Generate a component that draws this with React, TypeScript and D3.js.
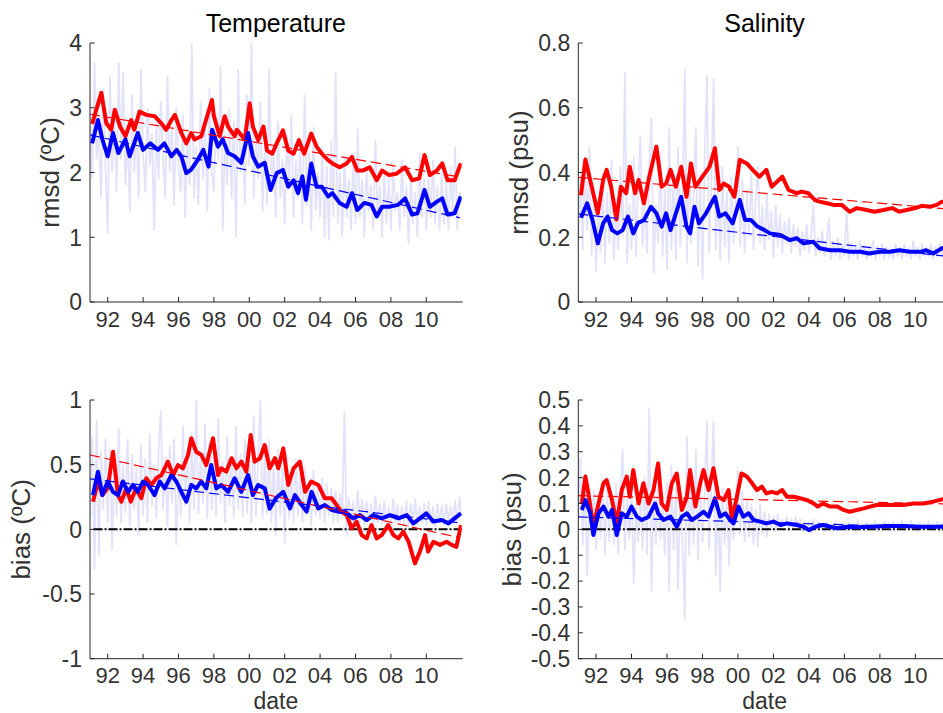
import React from 'react';
import * as d3 from 'd3';

// ---------- axis ticks ----------
const xTickYears = [1992, 1994, 1996, 1998, 2000, 2002, 2004, 2006, 2008, 2010];
const xTickLabels = ['92', '94', '96', '98', '00', '02', '04', '06', '08', '10'];

const tempRmsdTicks = [0, 1, 2, 3, 4];
const tempRmsdTickLabels = ['0', '1', '2', '3', '4'];
const salRmsdTicks = [0, 0.2, 0.4, 0.6, 0.8];
const salRmsdTickLabels = ['0', '0.2', '0.4', '0.6', '0.8'];
const tempBiasTicks = [-1, -0.5, 0, 0.5, 1];
const tempBiasTickLabels = ['-1', '-0.5', '0', '0.5', '1'];
const salBiasTicks = [-0.5, -0.4, -0.3, -0.2, -0.1, 0, 0.1, 0.2, 0.3, 0.4, 0.5];
const salBiasTickLabels = ['-0.5', '-0.4', '-0.3', '-0.2', '-0.1', '0', '0.1', '0.2', '0.3', '0.4', '0.5'];

// ---------- noisy background series (1/8 year sampling from 1991.0) ----------
const NOISE_START = 1991;
const NOISE_STEP = 0.125;

const tempRmsdNoise = [
  2.9, 1.9, 3.7, 2.2, 2.7, 1.6, 3.3, 2.1,
  1.05, 3.5, 2.0, 2.8, 1.7, 3.7, 2.2, 3.55,
  1.8, 2.6, 1.4, 3.2, 2.0, 2.7, 1.6, 3.6,
  2.3, 1.7, 3.0, 2.1, 2.6, 1.1, 2.8, 1.9,
  3.1, 2.2, 1.6, 3.5, 2.0, 2.7, 1.5, 3.0,
  2.1, 1.7, 2.9, 1.3, 2.6, 1.8, 4.0, 1.6,
  2.4, 1.5, 3.1, 1.9, 2.8, 1.4, 3.3, 2.0,
  1.7, 2.9, 2.2, 3.65, 1.1, 2.6, 1.8, 3.0,
  1.6, 2.8, 1.0, 3.6, 2.0, 2.5, 1.5, 3.2,
  2.1, 4.0, 1.6, 2.6, 1.9, 3.1, 1.4, 2.4,
  1.5, 3.6, 1.7, 2.3, 1.3, 2.8, 1.6, 2.2,
  1.2, 2.6, 1.8, 2.9, 1.3, 2.2, 1.6, 2.5,
  1.2, 3.2, 1.5, 2.3, 1.1, 2.7, 1.4, 2.0,
  1.3, 2.4, 1.0, 2.1, 0.95, 2.5, 1.3, 3.55,
  1.2, 2.0, 1.0, 2.2, 1.3, 1.9, 1.1, 2.3,
  1.2, 2.7, 1.3, 1.9, 1.0, 2.1, 1.4, 1.8,
  1.1, 2.5, 1.3, 1.8, 1.0, 2.0, 1.2, 1.9,
  1.1, 2.1, 1.4, 1.7, 1.1, 2.2, 1.3, 1.8,
  0.9, 2.0, 1.2, 1.7, 1.0, 2.3, 1.3, 1.9,
  1.1, 1.9, 1.3, 2.2, 1.2, 1.8, 1.1, 2.0,
  1.2, 1.9, 1.1, 2.1, 1.3, 2.4, 1.1, 1.7,
  1.6,
];

const salRmsdNoise = [
  0.20, 0.38, 0.16, 0.45, 0.22, 0.48, 0.14, 0.33,
  0.094, 0.30, 0.15, 0.40, 0.12, 0.34, 0.18, 0.44,
  0.13, 0.32, 0.16, 0.42, 0.20, 0.71, 0.12, 0.30,
  0.16, 0.45, 0.14, 0.36, 0.51, 0.17, 0.33, 0.15,
  0.42, 0.57, 0.088, 0.30, 0.18, 0.46, 0.14, 0.35,
  0.10, 0.54, 0.16, 0.40, 0.13, 0.48, 0.17, 0.30,
  0.72, 0.12, 0.44, 0.18, 0.33, 0.54, 0.11, 0.40,
  0.07, 0.45, 0.70, 0.15, 0.38, 0.69, 0.16, 0.36,
  0.13, 0.42, 0.17, 0.34, 0.12, 0.39, 0.18, 0.33,
  0.48, 0.17, 0.38, 0.15, 0.35, 0.20, 0.40, 0.16,
  0.32, 0.42, 0.18, 0.30, 0.16, 0.34, 0.19, 0.28,
  0.135, 0.30, 0.17, 0.27, 0.15, 0.25, 0.18, 0.26,
  0.15, 0.24, 0.17, 0.23, 0.14, 0.22, 0.16, 0.24,
  0.15, 0.21, 0.30, 0.14, 0.20, 0.15, 0.22, 0.14,
  0.19, 0.26, 0.13, 0.19, 0.14, 0.20, 0.13, 0.18,
  0.14, 0.28, 0.13, 0.18, 0.14, 0.17, 0.13, 0.19,
  0.14, 0.18, 0.13, 0.17, 0.14, 0.19, 0.13, 0.17,
  0.14, 0.18, 0.13, 0.17, 0.14, 0.16, 0.13, 0.18,
  0.14, 0.17, 0.13, 0.18, 0.14, 0.17, 0.13, 0.19,
  0.14, 0.17, 0.13, 0.18, 0.14, 0.17, 0.14, 0.18,
  0.13, 0.17, 0.14, 0.18, 0.14, 0.18, 0.15, 0.18,
  0.17,
];

const tempBiasNoise = [
  0.10, 0.72, -0.31, 0.85, -0.21, 0.60, 0.15, 0.70,
  0.05, 0.62, -0.16, 0.55, 0.10, 0.78, 0.05, 0.50,
  0.12, 0.70, 0.02, 0.58, 0.15, 0.48, -0.05, 0.66,
  0.10, 0.55, 0.05, 0.74, 0.18, 0.50, 0.08, 0.62,
  0.92, 0.15, 0.56, 0.02, 0.65, 0.20, 0.70, -0.12,
  0.45, 0.10, 0.80, 0.18, 0.62, 0.05, 0.74, 0.15,
  1.0, 0.12, 0.55, 0.20, 0.82, 0.08, 0.68, 0.15,
  0.60, 0.10, 0.86, 0.20, 0.52, 0.05, 0.72, 0.18,
  0.55, 0.08, 0.80, 0.15, 0.58, 0.10, 0.70, 0.12,
  0.62, 0.05, 0.88, 0.10, 0.55, 1.0, 0.08, 0.60,
  0.12, 0.70, 0.05, 0.52, -0.05, 0.62, 0.10, 0.48,
  -0.11, 0.58, 0.08, 0.45, 0.05, 0.55, 0.10, 0.42,
  0.05, 0.48, 0.12, 0.38, 0.02, 0.46, 0.10, 0.35,
  0.08, 0.40, 0.05, 0.36, 0.10, 0.32, 0.05, 0.30,
  0.05, 0.28, 0.10, 0.91, -0.06, 0.25, 0.05, 0.22,
  0.02, 0.30, 0.05, 0.24, 0.03, 0.22, 0.06, 0.20,
  0.02, 0.26, 0.05, 0.20, 0.04, 0.22, 0.03, 0.18,
  0.03, 0.24, 0.05, 0.20, 0.02, 0.18, 0.04, 0.22,
  0.02, 0.20, 0.04, 0.24, 0.03, 0.18, 0.05, 0.20,
  0.03, 0.22, 0.04, 0.18, 0.02, 0.20, 0.05, 0.19,
  0.03, 0.20, 0.05, 0.18, 0.04, 0.22, 0.05, 0.25,
  0.10,
];

const salBiasNoise = [
  0.02, 0.28, -0.06, 0.18, -0.18, 0.12, -0.02, 0.15,
  -0.08, 0.14, -0.04, 0.20, -0.10, 0.16, -0.05, 0.12,
  -0.06, 0.18, -0.10, 0.15, 0.31, -0.08, 0.12, -0.04,
  0.16, -0.21, 0.10, -0.05, 0.14, -0.08, 0.20, -0.10,
  0.47, -0.24, 0.15, -0.06, 0.20, -0.04, 0.12, -0.10,
  0.18, -0.24, 0.25, -0.08, 0.16, -0.235, 0.14, -0.05,
  -0.35, 0.36, -0.10, 0.20, -0.06, 0.31, -0.12, 0.18,
  -0.05, 0.14, 0.42, -0.08, 0.18, 0.42, -0.18, 0.12,
  -0.24, 0.16, -0.06, 0.12, -0.14, 0.10, -0.04, 0.13,
  0.23, -0.02, 0.15, -0.05, 0.12, -0.03, 0.10, -0.06,
  0.08, -0.07, 0.10, -0.02, 0.07, -0.03, 0.06, 0.00,
  0.05, -0.01, 0.06, 0.00, 0.04, 0.01, 0.05, -0.01,
  0.04, 0.00, 0.05, 0.01, 0.04, -0.01, 0.03, 0.00,
  0.03, -0.01, 0.04, 0.00, 0.03, 0.01, 0.02, -0.01,
  0.03, 0.00, 0.02, -0.01, 0.03, 0.00, 0.02, 0.01,
  0.02, -0.01, 0.03, 0.00, 0.02, -0.01, 0.03, 0.01,
  0.02, -0.01, 0.03, 0.00, 0.02, 0.01, 0.03, -0.01,
  0.02, 0.00, 0.03, 0.01, 0.02, -0.01, 0.03, 0.00,
  0.02, 0.01, 0.03, -0.01, 0.02, 0.00, 0.03, 0.01,
  0.02, -0.01, 0.03, 0.00, 0.02, 0.01, 0.03, 0.00,
  0.02, 0.00, 0.03, -0.01, 0.02, 0.01, 0.03, 0.01,
  0.01,
];

// ---------- smoothed series (red / blue) ----------
const tempRmsdRedYears = [1991.12, 1991.64, 1991.92, 1992.2, 1992.4, 1992.7, 1993.0, 1993.33, 1993.5, 1993.8, 1994.18, 1994.65, 1995.03, 1995.3, 1995.6, 1995.8, 1996.16, 1996.44, 1996.72, 1996.9, 1997.29, 1997.5, 1997.89, 1998.0, 1998.33, 1998.61, 1998.8, 1999.17, 1999.3, 1999.74, 2000.02, 2000.2, 2000.5, 2000.8, 2001.0, 2001.3, 2001.55, 2001.9, 2002.2, 2002.5, 2002.8, 2003.1, 2003.5, 2003.8, 2004.1, 2004.45, 2004.7, 2005.1, 2005.5, 2005.8, 2006.1, 2006.4, 2006.8, 2007.2, 2007.5, 2007.9, 2008.3, 2008.8, 2009.2, 2009.6, 2009.9, 2010.2, 2010.6, 2010.9, 2011.2, 2011.6, 2011.95];
const tempRmsdRedVals = [2.75, 3.23, 2.76, 2.66, 2.97, 2.71, 2.56, 2.81, 2.66, 2.94, 2.89, 2.87, 2.76, 2.66, 2.81, 2.89, 2.61, 2.45, 2.61, 2.51, 2.56, 2.76, 3.12, 2.87, 2.56, 2.87, 2.71, 2.56, 2.66, 2.51, 3.07, 2.71, 2.50, 2.71, 2.34, 2.29, 2.45, 2.65, 2.34, 2.29, 2.50, 2.29, 2.60, 2.40, 2.29, 2.19, 2.14, 2.08, 2.14, 2.24, 2.03, 2.03, 2.08, 1.88, 2.03, 1.96, 1.98, 2.08, 1.88, 1.91, 2.27, 1.96, 2.03, 2.14, 1.88, 1.88, 2.14];

const tempRmsdBlueYears = [1991.12, 1991.45, 1991.7, 1992.0, 1992.3, 1992.6, 1993.0, 1993.24, 1993.7, 1994.0, 1994.4, 1994.84, 1995.2, 1995.6, 1995.9, 1996.16, 1996.44, 1996.7, 1997.1, 1997.4, 1997.7, 1997.9, 1998.23, 1998.5, 1998.8, 1999.17, 1999.55, 1999.93, 2000.2, 2000.5, 2000.87, 2001.2, 2001.55, 2001.9, 2002.2, 2002.5, 2002.75, 2003.0, 2003.2, 2003.5, 2003.8, 2004.1, 2004.45, 2004.7, 2005.1, 2005.5, 2005.8, 2006.1, 2006.5, 2006.9, 2007.2, 2007.5, 2007.9, 2008.4, 2008.8, 2009.2, 2009.5, 2009.9, 2010.2, 2010.6, 2010.9, 2011.2, 2011.6, 2011.95];
const tempRmsdBlueVals = [2.45, 2.81, 2.51, 2.25, 2.61, 2.30, 2.51, 2.25, 2.61, 2.35, 2.45, 2.35, 2.45, 2.25, 2.35, 2.25, 1.99, 2.04, 2.20, 2.35, 2.09, 2.66, 2.40, 2.51, 2.30, 2.25, 2.15, 2.61, 2.25, 2.09, 2.15, 1.73, 1.99, 2.04, 1.78, 1.88, 1.68, 1.94, 1.58, 2.14, 1.78, 1.78, 1.63, 1.68, 1.53, 1.47, 1.68, 1.42, 1.53, 1.50, 1.32, 1.47, 1.47, 1.50, 1.60, 1.35, 1.37, 1.73, 1.47, 1.55, 1.60, 1.35, 1.37, 1.63];

const salRmsdRedYears = [1991.15, 1991.4, 1991.7, 1992.1, 1992.4, 1992.6, 1992.85, 1993.15, 1993.4, 1993.7, 1993.9, 1994.2, 1994.4, 1994.7, 1995.0, 1995.4, 1995.7, 1995.95, 1996.2, 1996.5, 1996.8, 1997.1, 1997.35, 1997.6, 1998.0, 1998.4, 1998.7, 1998.95, 1999.2, 1999.5, 1999.8, 2000.1, 2000.5, 2000.83, 2001.2, 2001.6, 2001.9, 2002.5, 2002.85, 2003.3, 2003.6, 2003.97, 2004.34, 2004.6, 2005.0, 2005.4, 2005.85, 2006.3, 2006.7, 2007.25, 2007.7, 2008.2, 2008.7, 2009.1, 2009.5, 2010.0, 2010.36, 2010.8, 2011.2, 2011.5, 2012.0];
const salRmsdRedVals = [0.33, 0.44, 0.37, 0.274, 0.377, 0.408, 0.356, 0.255, 0.356, 0.336, 0.418, 0.336, 0.377, 0.305, 0.387, 0.48, 0.356, 0.366, 0.408, 0.356, 0.418, 0.325, 0.428, 0.356, 0.387, 0.418, 0.475, 0.346, 0.366, 0.356, 0.325, 0.439, 0.428, 0.408, 0.387, 0.408, 0.356, 0.387, 0.346, 0.336, 0.341, 0.336, 0.315, 0.31, 0.305, 0.30, 0.30, 0.279, 0.29, 0.284, 0.279, 0.284, 0.29, 0.279, 0.284, 0.29, 0.297, 0.294, 0.30, 0.31, 0.31];

const salRmsdBlueYears = [1991.15, 1991.5, 1991.8, 1992.1, 1992.4, 1992.65, 1992.9, 1993.2, 1993.5, 1993.8, 1994.1, 1994.35, 1994.7, 1995.1, 1995.4, 1995.7, 1995.95, 1996.2, 1996.5, 1996.8, 1997.1, 1997.3, 1997.55, 1997.8, 1998.2, 1998.5, 1998.7, 1998.95, 1999.3, 1999.7, 2000.1, 2000.4, 2000.74, 2001.1, 2001.5, 2001.8, 2002.4, 2002.93, 2003.3, 2003.7, 2004.25, 2004.6, 2005.2, 2005.75, 2006.3, 2006.9, 2007.4, 2008.0, 2008.57, 2009.1, 2009.7, 2010.3, 2010.6, 2011.0, 2011.5, 2012.0];
const salRmsdBlueVals = [0.26, 0.305, 0.253, 0.181, 0.243, 0.264, 0.222, 0.212, 0.222, 0.264, 0.212, 0.243, 0.253, 0.294, 0.274, 0.233, 0.274, 0.222, 0.274, 0.325, 0.233, 0.212, 0.294, 0.243, 0.274, 0.305, 0.325, 0.264, 0.274, 0.243, 0.315, 0.253, 0.253, 0.233, 0.222, 0.212, 0.207, 0.191, 0.197, 0.181, 0.186, 0.166, 0.16, 0.16, 0.155, 0.155, 0.15, 0.155, 0.155, 0.16, 0.155, 0.155, 0.16, 0.15, 0.166, 0.17];

const tempBiasRedYears = [1991.17, 1991.45, 1991.7, 1992.0, 1992.3, 1992.58, 1992.77, 1993.05, 1993.3, 1993.6, 1993.9, 1994.18, 1994.47, 1994.75, 1995.03, 1995.4, 1995.7, 1995.97, 1996.25, 1996.54, 1996.72, 1997.0, 1997.29, 1997.57, 1997.95, 1998.23, 1998.42, 1998.7, 1999.0, 1999.27, 1999.55, 1999.83, 2000.08, 2000.3, 2000.6, 2000.87, 2001.15, 2001.45, 2001.64, 2001.92, 2002.2, 2002.5, 2002.86, 2003.15, 2003.5, 2003.9, 2004.27, 2004.65, 2004.93, 2005.2, 2005.5, 2005.78, 2006.06, 2006.35, 2006.63, 2006.9, 2007.2, 2007.48, 2007.85, 2008.14, 2008.42, 2008.7, 2009.0, 2009.36, 2009.64, 2009.93, 2010.1, 2010.4, 2010.77, 2011.15, 2011.43, 2011.7, 2011.96];
const tempBiasRedVals = [0.214, 0.37, 0.265, 0.317, 0.60, 0.265, 0.214, 0.317, 0.214, 0.317, 0.24, 0.395, 0.343, 0.395, 0.42, 0.523, 0.42, 0.497, 0.472, 0.575, 0.704, 0.60, 0.575, 0.497, 0.704, 0.42, 0.472, 0.446, 0.55, 0.472, 0.523, 0.446, 0.73, 0.523, 0.55, 0.652, 0.472, 0.55, 0.472, 0.626, 0.343, 0.472, 0.523, 0.29, 0.37, 0.343, 0.24, 0.24, 0.188, 0.137, 0.11, 0.008, 0.06, -0.044, -0.07, 0.033, -0.07, -0.044, 0.033, -0.044, -0.07, -0.018, -0.096, -0.263, -0.172, -0.044, -0.172, -0.096, -0.12, -0.096, -0.12, -0.135, 0.033];

const tempBiasBlueYears = [1991.17, 1991.45, 1991.7, 1992.0, 1992.3, 1992.58, 1992.86, 1993.15, 1993.43, 1993.7, 1994.0, 1994.28, 1994.65, 1994.94, 1995.22, 1995.6, 1995.88, 1996.16, 1996.44, 1996.72, 1997.0, 1997.29, 1997.57, 1997.85, 1998.14, 1998.42, 1998.8, 1999.17, 1999.55, 1999.93, 2000.2, 2000.5, 2000.87, 2001.15, 2001.5, 2001.92, 2002.3, 2002.58, 2002.96, 2003.24, 2003.52, 2003.9, 2004.27, 2004.65, 2005.03, 2005.4, 2005.87, 2006.25, 2006.63, 2007.0, 2007.48, 2007.95, 2008.42, 2008.9, 2009.27, 2009.64, 2010.0, 2010.4, 2010.87, 2011.25, 2011.6, 2011.96];
const tempBiasBlueVals = [0.265, 0.446, 0.265, 0.37, 0.29, 0.265, 0.37, 0.29, 0.343, 0.29, 0.37, 0.343, 0.265, 0.37, 0.317, 0.42, 0.37, 0.29, 0.214, 0.343, 0.317, 0.37, 0.317, 0.497, 0.317, 0.343, 0.29, 0.395, 0.29, 0.42, 0.265, 0.343, 0.317, 0.16, 0.24, 0.29, 0.162, 0.265, 0.188, 0.137, 0.29, 0.162, 0.188, 0.15, 0.137, 0.137, 0.085, 0.11, 0.072, 0.11, 0.085, 0.11, 0.085, 0.11, 0.046, 0.085, 0.124, 0.06, 0.072, 0.046, 0.085, 0.124];

const salBiasRedYears = [1991.2, 1991.4, 1991.57, 1991.85, 1992.14, 1992.42, 1992.6, 1992.9, 1993.17, 1993.45, 1993.73, 1993.9, 1994.1, 1994.4, 1994.67, 1994.96, 1995.24, 1995.5, 1995.7, 1995.99, 1996.27, 1996.55, 1996.84, 1997.12, 1997.3, 1997.6, 1997.87, 1998.06, 1998.34, 1998.62, 1998.9, 1999.2, 1999.47, 1999.66, 1999.94, 2000.2, 2000.5, 2000.8, 2001.07, 2001.35, 2001.6, 2001.9, 2002.2, 2002.5, 2002.76, 2003.13, 2003.5, 2003.9, 2004.26, 2004.5, 2004.8, 2005.2, 2005.6, 2005.95, 2006.3, 2006.7, 2007.1, 2007.45, 2007.8, 2008.2, 2008.77, 2009.3, 2009.9, 2010.45, 2011.0, 2011.5, 2012.0];
const salBiasRedVals = [0.1, 0.204, 0.139, 0.01, 0.1, 0.178, 0.19, 0.113, 0.023, 0.152, 0.204, 0.126, 0.229, 0.1, 0.178, 0.1, 0.152, 0.255, 0.1, 0.075, 0.178, 0.216, 0.075, 0.126, 0.229, 0.088, 0.178, 0.229, 0.152, 0.236, 0.126, 0.113, 0.152, 0.036, 0.126, 0.216, 0.204, 0.178, 0.152, 0.165, 0.139, 0.145, 0.139, 0.152, 0.126, 0.126, 0.12, 0.113, 0.1, 0.088, 0.1, 0.088, 0.088, 0.075, 0.068, 0.075, 0.081, 0.088, 0.094, 0.094, 0.094, 0.094, 0.1, 0.1, 0.107, 0.116, 0.118];

const salBiasBlueYears = [1991.2, 1991.4, 1991.67, 1991.85, 1992.14, 1992.42, 1992.7, 1992.9, 1993.17, 1993.45, 1993.73, 1994.0, 1994.3, 1994.58, 1994.96, 1995.33, 1995.5, 1995.8, 1996.2, 1996.55, 1996.84, 1997.12, 1997.4, 1997.7, 1998.06, 1998.34, 1998.7, 1999.0, 1999.28, 1999.56, 1999.75, 2000.03, 2000.3, 2000.6, 2000.88, 2001.25, 2001.6, 2002.0, 2002.4, 2002.76, 2003.3, 2003.7, 2004.0, 2004.35, 2004.8, 2005.2, 2005.6, 2006.1, 2006.7, 2007.45, 2008.4, 2009.3, 2010.3, 2011.2, 2012.0];
const salBiasBlueVals = [0.075, 0.113, 0.062, -0.022, 0.062, 0.088, 0.049, 0.075, -0.022, 0.062, 0.049, 0.088, 0.049, 0.036, 0.049, 0.1, 0.062, 0.036, 0.049, 0.01, 0.049, 0.062, 0.036, 0.049, 0.068, 0.049, 0.12, 0.049, 0.062, 0.036, 0.023, 0.088, 0.049, 0.062, 0.036, 0.03, 0.023, 0.03, 0.017, 0.023, 0.017, 0.01, -0.003, 0.01, 0.017, 0.01, 0.004, 0.01, 0.008, 0.01, 0.013, 0.013, 0.01, 0.01, 0.012];

// ---------- trend lines (start / end) ----------
const trendYears = [1991.0, 2011.9];
const tempRmsdRedTrend = [2.9, 1.93];
const tempRmsdBlueTrend = [2.58, 1.3];
const salRmsdRedTrend = [0.385, 0.287];
const salRmsdBlueTrend = [0.272, 0.14];
const tempBiasRedTrend = [0.575, -0.065];
const tempBiasBlueTrend = [0.39, 0.05];
const salBiasRedTrend = [0.13, 0.098];
const salBiasBlueTrend = [0.048, 0.006];

const zeroYears = [1991.2, 2012.0];
const zeroVals = [0, 0];

// ---------- layout ----------
const FONT = "'Liberation Sans', Arial, Helvetica, sans-serif";
const AXIS_COLOR = '#262626';
const LIGHT = '#e2e2fa';

type PanelCfg = {
  id: string;
  left: number;
  top: number;
  bottom: number;
  pxPerYear: number;
  yDomain: [number, number];
  yTicks: number[];
  yTickLabels: string[];
  noise: number[];
  redYears: number[];
  redVals: number[];
  blueYears: number[];
  blueVals: number[];
  redTrend: number[];
  blueTrend: number[];
  zero: boolean;
  title?: string;
  ylabel: string;
  ylabelX: number;
  xlabel?: string;
};

const panels: PanelCfg[] = [
  {
    id: 'tl', left: 90, top: 43, bottom: 302, pxPerYear: 17.7,
    yDomain: [0, 4], yTicks: tempRmsdTicks, yTickLabels: tempRmsdTickLabels,
    noise: tempRmsdNoise,
    redYears: tempRmsdRedYears, redVals: tempRmsdRedVals,
    blueYears: tempRmsdBlueYears, blueVals: tempRmsdBlueVals,
    redTrend: tempRmsdRedTrend, blueTrend: tempRmsdBlueTrend,
    zero: false, title: 'Temperature', ylabel: 'rmsd (ºC)', ylabelX: 59,
  },
  {
    id: 'tr', left: 578.3, top: 43, bottom: 302, pxPerYear: 17.74,
    yDomain: [0, 0.8], yTicks: salRmsdTicks, yTickLabels: salRmsdTickLabels,
    noise: salRmsdNoise,
    redYears: salRmsdRedYears, redVals: salRmsdRedVals,
    blueYears: salRmsdBlueYears, blueVals: salRmsdBlueVals,
    redTrend: salRmsdRedTrend, blueTrend: salRmsdBlueTrend,
    zero: false, title: 'Salinity', ylabel: 'rmsd (psu)', ylabelX: 528,
  },
  {
    id: 'bl', left: 90, top: 400, bottom: 658.7, pxPerYear: 17.7,
    yDomain: [-1, 1], yTicks: tempBiasTicks, yTickLabels: tempBiasTickLabels,
    noise: tempBiasNoise,
    redYears: tempBiasRedYears, redVals: tempBiasRedVals,
    blueYears: tempBiasBlueYears, blueVals: tempBiasBlueVals,
    redTrend: tempBiasRedTrend, blueTrend: tempBiasBlueTrend,
    zero: true, ylabel: 'bias (ºC)', ylabelX: 30, xlabel: 'date',
  },
  {
    id: 'br', left: 578.3, top: 400, bottom: 658.7, pxPerYear: 17.74,
    yDomain: [-0.5, 0.5], yTicks: salBiasTicks, yTickLabels: salBiasTickLabels,
    noise: salBiasNoise,
    redYears: salBiasRedYears, redVals: salBiasRedVals,
    blueYears: salBiasBlueYears, blueVals: salBiasBlueVals,
    redTrend: salBiasRedTrend, blueTrend: salBiasBlueTrend,
    zero: true, ylabel: 'bias (psu)', ylabelX: 521, xlabel: 'date',
  },
];

function Panel({ cfg }: { cfg: PanelCfg }) {
  const x = d3.scaleLinear().domain([1991, 2012]).range([cfg.left, cfg.left + 21 * cfg.pxPerYear]);
  const y = d3.scaleLinear().domain(cfg.yDomain).range([cfg.bottom, cfg.top]);
  const path = (xs: number[], ys: number[]) =>
    d3.line<number>().x((_, i) => x(xs[i])).y((d) => y(d))(ys) || '';
  const noiseYears = cfg.noise.map((_, i) => NOISE_START + i * NOISE_STEP);
  const right = x(2012);
  const midX = (cfg.left + right) / 2;
  const midY = (cfg.top + cfg.bottom) / 2;
  const clipId = `clip-${cfg.id}`;

  return (
    <g>
      <defs>
        <clipPath id={clipId}>
          <rect x={cfg.left} y={cfg.top - 2} width={right - cfg.left} height={cfg.bottom - cfg.top + 2} />
        </clipPath>
      </defs>
      <g clipPath={`url(#${clipId})`}>
        <path d={path(noiseYears, cfg.noise)} fill="none" stroke={LIGHT} strokeWidth={1.8} />
        {cfg.zero && (
          <path d={path(zeroYears, zeroVals)} fill="none" stroke="#000" strokeWidth={2}
            strokeDasharray="9,2,2,2" />
        )}
        <path d={path(cfg.redYears, cfg.redVals)} fill="none" stroke="#ff0000" strokeWidth={4}
          strokeLinejoin="round" />
        <path d={path(cfg.blueYears, cfg.blueVals)} fill="none" stroke="#0000ff" strokeWidth={4}
          strokeLinejoin="round" />
        <path d={path(trendYears, cfg.redTrend)} fill="none" stroke="#ff0000" strokeWidth={1.2}
          strokeDasharray="10,5" />
        <path d={path(trendYears, cfg.blueTrend)} fill="none" stroke="#0000ff" strokeWidth={1.2}
          strokeDasharray="10,5" />
      </g>
      {/* axes */}
      <line x1={cfg.left} x2={cfg.left} y1={cfg.top} y2={cfg.bottom} stroke={AXIS_COLOR} strokeWidth={1} />
      <line x1={cfg.left} x2={right + 1} y1={cfg.bottom} y2={cfg.bottom} stroke={AXIS_COLOR} strokeWidth={1} />
      {cfg.yTicks.map((t, i) => (
        <g key={`yt${i}`}>
          <line x1={cfg.left} x2={cfg.left + 4.5} y1={y(t)} y2={y(t)} stroke={AXIS_COLOR} strokeWidth={1} />
          <text x={cfg.left - 8} y={y(t)} dy="0.36em" textAnchor="end" fontSize={23}
            fontFamily={FONT} fill="#333">{cfg.yTickLabels[i]}</text>
        </g>
      ))}
      {xTickYears.map((t, i) => (
        <g key={`xt${i}`}>
          <line x1={x(t)} x2={x(t)} y1={cfg.bottom} y2={cfg.bottom - 5} stroke={AXIS_COLOR} strokeWidth={1} />
          <text x={x(t)} y={cfg.bottom + 24.5} textAnchor="middle" fontSize={22}
            fontFamily={FONT} fill="#333">{xTickLabels[i]}</text>
        </g>
      ))}
      {cfg.title && (
        <text x={midX} y={32} textAnchor="middle" fontSize={25} fontFamily={FONT} fill="#000">{cfg.title}</text>
      )}
      <text transform={`translate(${cfg.ylabelX},${midY}) rotate(-90)`} textAnchor="middle" fontSize={26}
        fontFamily={FONT} fill="#333">{cfg.ylabel}</text>
      {cfg.xlabel && (
        <text x={midX} y={708.5} textAnchor="middle" fontSize={23} fontFamily={FONT} fill="#333">{cfg.xlabel}</text>
      )}
    </g>
  );
}

export default function App() {
  return (
    <svg width={943} height={713} viewBox="0 0 943 713"
      style={{ position: 'absolute', left: 0, top: 0, background: '#fff', display: 'block' }}>
      <rect x={0} y={0} width={943} height={713} fill="#fff" />
      {panels.map((p) => <Panel key={p.id} cfg={p} />)}
    </svg>
  );
}
